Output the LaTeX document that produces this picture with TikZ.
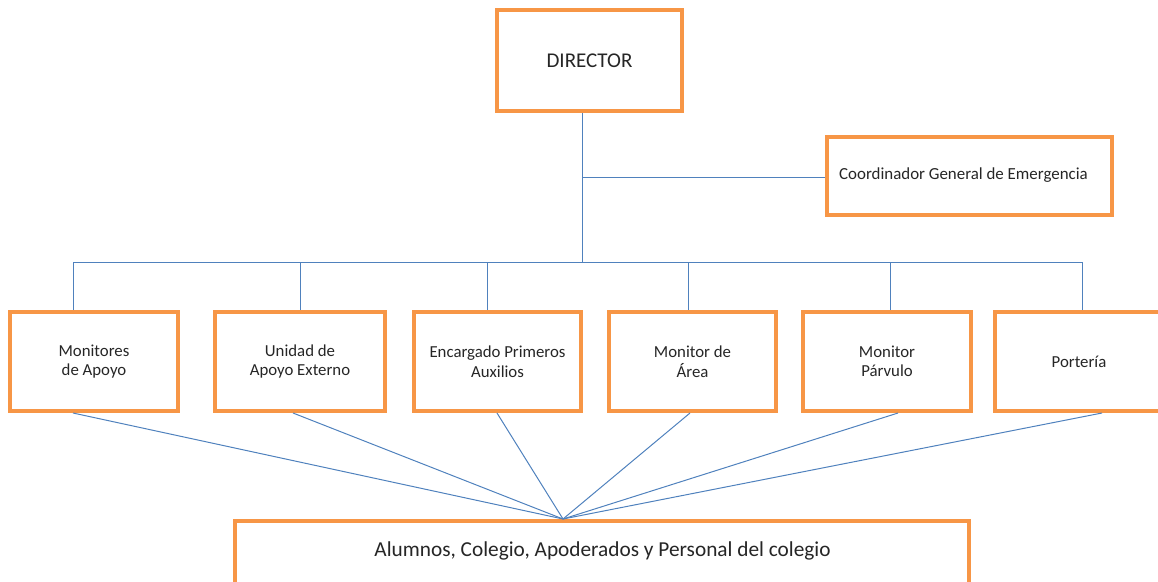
\documentclass[tikz,border=0pt]{standalone}
\usepackage{fontspec}
\setmainfont{Carlito}
\definecolor{boxorange}{HTML}{F79646}
\definecolor{lineblue}{HTML}{4F81BD}
\begin{document}
\begin{tikzpicture}[x=1pt,y=-1pt,
  orgbox/.style={draw=boxorange,line width=4pt,fill=white,inner sep=0pt,align=center,
    font=\fontsize{16.8}{19.5}\selectfont,text=black!85},
  conn/.style={draw=lineblue,line width=1pt}]
\useasboundingbox (0,0) rectangle (1158,581);
\clip (0,0) rectangle (1158,581);
\coordinate (trunkbus) at (582,262);
\coordinate (trunkco) at (582,177);
\coordinate (conv) at (563,519);
\coordinate (b1) at (73,262);
\coordinate (b2) at (300,262);
\coordinate (b3) at (487,262);
\coordinate (b4) at (688,262);
\coordinate (b5) at (890,262);
\coordinate (b6) at (1082,262);
% boxes
\node[orgbox,minimum width=185pt,minimum height=101pt,font=\fontsize{21}{24}\selectfont] (dir) at (589.5,60.5) {DIRECTOR};
\node[orgbox,minimum width=285pt,minimum height=78pt] (coord) at (969.5,176) {};
\node[font=\fontsize{16.9}{19.5}\selectfont,text=black!85] (coordtxt) at (963.5,175) {Coordinador General de Emergencia};
\node[orgbox,minimum width=168pt,minimum height=99pt] (m1) at (94,361.5) {Monitores\\de Apoyo};
\node[orgbox,minimum width=170pt,minimum height=99pt] (m2) at (300,361.5) {Unidad de\\Apoyo Externo};
\node[orgbox,minimum width=167pt,minimum height=99pt] (m3) at (497.5,361.5) {Encargado Primeros\\Auxilios};
\node[orgbox,minimum width=167pt,minimum height=99pt] (m4) at (692.5,361.5) {Monitor de\\Área};
\node[orgbox,minimum width=168pt,minimum height=99pt] (m5) at (887,361.5) {Monitor\\Párvulo};
\node[orgbox,minimum width=172pt,minimum height=99pt] (m6) at (1081,361.5) {};
\node[font=\fontsize{16.8}{19.5}\selectfont,text=black!85] (m6txt) at (1079,361.5) {Portería};
\node[orgbox,line width=3.5pt,minimum width=734pt,minimum height=100pt,anchor=north] (bot) at (602,519) {};
\node[font=\fontsize{21.3}{25}\selectfont,text=black!85] (bottxt) at (602.5,551) {Alumnos, Colegio, Apoderados y Personal del colegio};
% lines
\draw[conn] (dir.south -| trunkbus) -- (trunkbus);
\draw[conn] (trunkco) -- (trunkco -| coord.west);
\draw[conn] (b1) -- (b6);
\foreach \b/\m in {b1/m1,b2/m2,b3/m3,b4/m4,b5/m5,b6/m6}{
  \draw[conn] (\b) -- (\b |- \m.north);
}
\draw[conn] (73,413) coordinate (f1) -- (conv);
\draw[conn] (293,413) coordinate (f2) -- (conv);
\draw[conn] (497,413) coordinate (f3) -- (conv);
\draw[conn] (690,413) coordinate (f4) -- (conv);
\draw[conn] (898,413) coordinate (f5) -- (conv);
\draw[conn] (1102,413) coordinate (f6) -- (conv);
\end{tikzpicture}
\end{document}
